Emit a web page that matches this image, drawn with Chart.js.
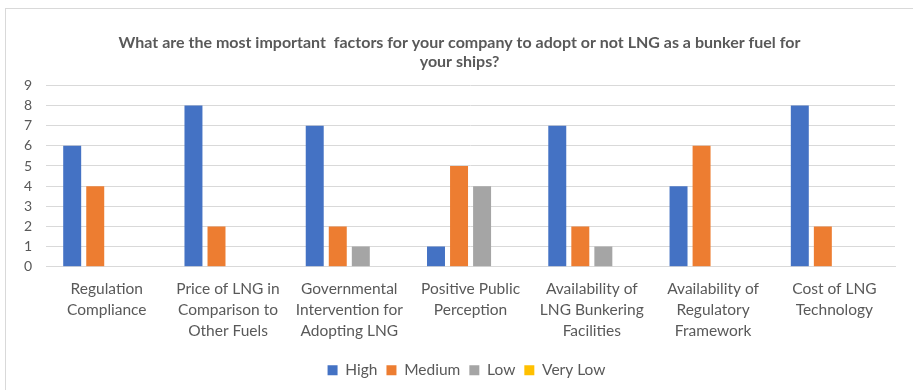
<!DOCTYPE html>
<html>
<head>
<meta charset="utf-8">
<script src="https://cdn.jsdelivr.net/npm/chart.js@4"></script>
<style>
	html, body { margin: 0; padding: 0; background: #fff; }
	#frame {
		position: absolute; left: 5px; top: 8px;
		width: 920px; height: 400px;
		border: 1px solid #d9d9d9;
		box-sizing: border-box;
	}
	#wrap { position: absolute; left: 0; top: 0; width: 913px; height: 390px; }
</style>
</head>
<body>
<div id="frame"></div>
<div id="wrap"><canvas id="lngChart" width="913" height="390"></canvas></div>
<script>
const categories = [
	['Regulation', 'Compliance'],
	['Price of LNG in', 'Comparison to', 'Other Fuels'],
	['Governmental', 'Intervention for', 'Adopting LNG'],
	['Positive Public', 'Perception'],
	['Availability of', 'LNG Bunkering', 'Facilities'],
	['Availability of', 'Regulatory', 'Framework'],
	['Cost of LNG', 'Technology']
];

const highValues = [6, 8, 7, 1, 7, 4, 8];
const mediumValues = [4, 2, 2, 5, 2, 6, 2];
const lowValues = [0, 0, 1, 4, 1, 0, 0];
const veryLowValues = [0, 0, 0, 0, 0, 0, 0];

const chartTitle = [
	'What are the most important  factors for your company to adopt or not LNG as a bunker fuel for',
	'your ships?'
];

const textColor = '#595959';
const fontFamily = 'Lato, "Open Sans", sans-serif';

// nudge the title and legend a little right of the canvas centre
const blockShift = {
	id: 'blockShift',
	afterLayout(chart) {
		chart.titleBlock.left += 7;
		chart.titleBlock.right += 7;
		chart.legend.left += 14;
		chart.legend.right += 14;
	}
};

function renderChart() {
	const ctx = document.getElementById('lngChart').getContext('2d');

	const series = [
		{ label: 'High', data: highValues, color: '#4472C4' },
		{ label: 'Medium', data: mediumValues, color: '#ED7D31' },
		{ label: 'Low', data: lowValues, color: '#A5A5A5' },
		{ label: 'Very Low', data: veryLowValues, color: '#FFC000' }
	];

	new Chart(ctx, {
		type: 'bar',
		data: {
			labels: categories,
			datasets: series.map(s => ({
				label: s.label,
				data: s.data,
				backgroundColor: s.color,
				borderWidth: 0,
				categoryPercentage: 0.76,
				barPercentage: 0.78
			}))
		},
		plugins: [blockShift],
		options: {
			responsive: false,
			animation: false,
			layout: {
				padding: { left: 10, right: 18, top: 33, bottom: 2 }
			},
			plugins: {
				title: {
					display: true,
					text: chartTitle,
					color: textColor,
					font: { family: fontFamily, size: 16, weight: 'bold', lineHeight: 1.2 },
					padding: { top: 0, bottom: 14 }
				},
				legend: {
					position: 'bottom',
					labels: {
						color: textColor,
						boxWidth: 10,
						boxHeight: 10,
						padding: 9,
						font: { family: fontFamily, size: 15.5 }
					}
				},
				tooltip: { enabled: false }
			},
			scales: {
				x: {
					grid: { display: false, drawTicks: false },
					border: { color: '#d9d9d9' },
					ticks: {
						color: textColor,
						maxRotation: 0,
						autoSkip: false,
						padding: 12,
						font: { family: fontFamily, size: 15.5, lineHeight: 1.35 }
					}
				},
				y: {
					min: 0,
					max: 9,
					grid: { color: '#d9d9d9', drawTicks: false },
					border: { display: false },
					ticks: {
						stepSize: 1,
						autoSkip: false,
						color: textColor,
						padding: 14,
						font: { family: fontFamily, size: 14 }
					}
				}
			}
		}
	});
}

renderChart();
</script>
</body>
</html>
